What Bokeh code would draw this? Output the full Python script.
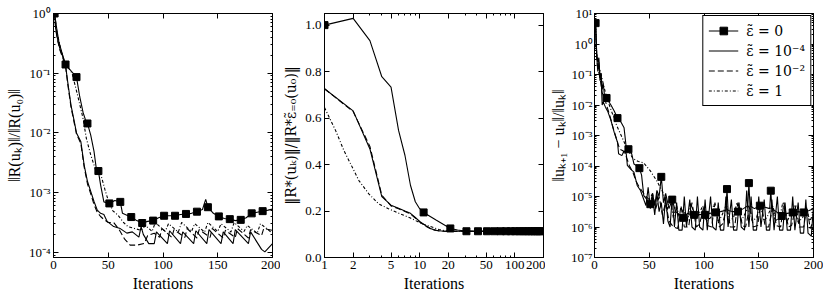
from bokeh.plotting import figure
from bokeh.layouts import row
from bokeh.models import (LinearAxis, FixedTicker, CustomJSTickFormatter,
                          Legend, LegendItem, Range1d)
from bokeh.embed import file_html
from bokeh.resources import INLINE

FONT = "Liberation Serif"
MATH_FONT = "DejaVu Serif"

# ---------------- data ----------------
# Panel 1: ||R(u_k)|| / ||R(u_0)||
P1_IT_E0 = [1, 3, 5, 8, 11, 21, 24, 27, 29, 31, 34, 37, 39, 41, 43, 46, 51, 56, 61, 63,
            67, 71, 76, 81, 86, 91, 96, 101, 106, 111, 116, 121, 126, 131, 136, 139, 141, 146, 151, 156,
            161, 166, 171, 176, 181, 186, 191, 196, 200]
P1_E0 = [1.0, 0.55, 0.33, 0.21, 0.14, 0.086, 0.04, 0.022, 0.017, 0.0144,
         0.0092, 0.0049, 0.0026, 0.0023, 0.00135, 0.0007, 0.00066, 0.00074, 0.0007, 0.00045,
         0.00042, 0.00039, 0.00034, 0.00031, 0.00033, 0.00034, 0.00038, 0.00041, 0.00041, 0.00041,
         0.00043, 0.00044, 0.00045, 0.00048, 0.00052, 0.00077, 0.00057, 0.00045, 0.0004, 0.00037,
         0.00036, 0.00034, 0.00035, 0.00038, 0.00045, 0.00047, 0.00049, 0.00051, 0.00053]

P1_IT_E4 = [1, 2, 4, 6, 9, 11, 13, 16, 19, 21, 25, 28, 31, 34, 37, 40, 43, 46, 49, 55,
            61, 67, 72, 78, 80, 82, 87, 92, 94, 104, 106, 116, 118, 128, 130, 140, 142, 153, 155, 164,
            166, 178, 180, 190, 193, 200]
P1_E4 = [1.0, 0.56, 0.35, 0.25, 0.18, 0.135, 0.071, 0.029, 0.0155, 0.01,
         0.0071, 0.0029, 0.00155, 0.00105, 0.00071, 0.00051, 0.00045, 0.00043, 0.00033, 0.00027,
         0.00025, 0.00021, 0.00022, 0.00018, 0.00027, 0.0002, 0.00014, 0.00014, 0.00022, 0.00014,
         0.00023, 0.00014, 0.00022, 0.00014, 0.00023, 0.00014, 0.00024, 0.00014, 0.00022, 0.00014,
         0.00024, 0.00014, 0.00022, 0.000112, 0.000102, 0.00014]

P1_IT_E2 = [1, 2, 4, 6, 9, 11, 13, 16, 19, 21, 25, 28, 31, 34, 37, 40, 43, 46, 50, 55,
            60, 65, 70, 76, 83, 86, 92, 97, 99, 108, 110, 120, 122, 131, 133, 143, 145, 155, 157, 166,
            168, 178, 180, 190, 192, 200]
P1_E2 = [1.0, 0.537, 0.339, 0.24, 0.17, 0.132, 0.066, 0.0269, 0.0145, 0.00955,
         0.0066, 0.00269, 0.00141, 0.000955, 0.000631, 0.000468, 0.000398, 0.000355, 0.000316, 0.000316,
         0.00024, 0.000166, 0.000132, 0.000132, 0.000141, 0.000191, 0.000209, 0.000178, 0.000251, 0.000178,
         0.00024, 0.000178, 0.000251, 0.000174, 0.00024, 0.000178, 0.000251, 0.000174, 0.000234, 0.000178,
         0.000251, 0.000174, 0.00024, 0.000191, 0.000251, 0.000234]

P1_IT_E1 = [1, 3, 6, 10, 14, 17, 22, 27, 30, 34, 39, 43, 47, 50, 54, 59, 64, 68, 74, 80,
            84, 90, 93, 102, 105, 114, 117, 126, 129, 138, 141, 150, 153, 162, 165, 174, 177, 186, 189, 200]
P1_E1 = [1.0, 0.5, 0.282, 0.158, 0.12, 0.1, 0.0427, 0.0174, 0.00813, 0.00427,
         0.00224, 0.00209, 0.00112, 0.000741, 0.000501, 0.000417, 0.000316, 0.000269, 0.000251, 0.000234,
         0.000282, 0.000224, 0.000316, 0.000224, 0.000302, 0.000219, 0.000316, 0.000224, 0.000302, 0.000219,
         0.000316, 0.000224, 0.000302, 0.000219, 0.000316, 0.000224, 0.000282, 0.000209, 0.000302, 0.000209]

# Panel 2: ||R*(u_k)|| / ||R*_{eps=0}(u_0)||  (log x axis)
P2_IT_E0 = [1, 2, 3, 4, 5, 6, 7, 8, 9, 10, 11, 15, 21, 25, 31, 41, 51, 61, 71, 81,
            91, 101, 111, 121, 131, 141, 151, 161, 171, 181, 191, 200]
P2_E0 = [1.0, 1.029, 0.933, 0.778, 0.733, 0.547, 0.44, 0.311, 0.24, 0.21, 0.194, 0.16, 0.125, 0.118, 0.113,
         0.113, 0.113, 0.113, 0.113, 0.113, 0.113, 0.113, 0.113, 0.113, 0.113, 0.113, 0.113, 0.113,
         0.113, 0.113, 0.113, 0.113]
P2_IT_E4 = [1, 2, 3, 4, 5, 6, 7, 8, 9, 10, 11, 12, 13, 14, 15, 16, 18, 200]
P2_E4 = [0.726, 0.631, 0.467, 0.262, 0.225, 0.212, 0.2, 0.19, 0.172, 0.155, 0.143, 0.133, 0.125,
         0.12, 0.117, 0.115, 0.113, 0.113]
P2_IT_E2 = [1, 2, 3, 4, 5, 6, 7, 8, 9, 10, 11, 12, 13, 14, 15, 16, 18, 200]
P2_E2 = [0.726, 0.628, 0.478, 0.268, 0.222, 0.21, 0.198, 0.187, 0.17, 0.153, 0.141, 0.131, 0.124,
         0.119, 0.116, 0.114, 0.113, 0.113]
P2_IT_E1 = [1, 1.31, 1.6, 1.96, 2.3, 2.92, 3.7, 4.7, 6.0, 7.9, 10.5, 12.8, 16, 20, 200]
P2_E1 = [0.645, 0.546, 0.46, 0.388, 0.331, 0.274, 0.231, 0.21, 0.191, 0.171, 0.146, 0.134, 0.12,
         0.113, 0.113]

# Panel 3: ||u_{k+1} - u_k|| / ||u_k||
P3_IT_E0 = [1, 2, 3, 4, 5, 6, 7, 8, 9, 11, 15, 18, 21, 24, 27, 29, 31, 34, 36, 39,
            41, 43, 45, 48, 51, 53, 55, 57, 59, 61, 63, 65, 68, 71, 74, 78, 81, 85, 88, 91,
            95, 101, 105, 111, 115, 120, 121, 122, 126, 131, 136, 140, 141, 142, 146, 151, 155, 160, 161, 162,
            166, 171, 176, 181, 186, 191, 196, 200]
P3_E0 = [4.84, 0.5, 0.251, 0.355, 0.0794, 0.112, 0.0316, 0.0501, 0.0224, 0.017,
         0.01, 0.00631, 0.00372, 0.00282, 0.00178, 0.000398, 0.000355, 0.000251, 0.000117, 0.0001,
         8.5e-5, 5.0e-5, 1.07e-5, 7.9e-6, 5.6e-6, 1.26e-5, 5.0e-6, 1.58e-5, 1.0e-5, 4.4e-5,
         6.3e-6, 1.26e-5, 4.0e-6, 7.9e-6, 3.2e-6, 2.5e-6, 2.0e-6, 2.8e-6, 2.5e-6, 2.5e-6,
         2.6e-6, 2.5e-6, 2.8e-6, 3.0e-6, 3.2e-6, 3.5e-6, 1.75e-5, 3.5e-6, 3.2e-6, 3.2e-6,
         4.0e-6, 5.0e-6, 2.75e-5, 5.0e-6, 4.0e-6, 5.0e-6, 4.5e-6, 4.0e-6, 1.55e-5, 4.0e-6,
         3.2e-6, 2.3e-6, 2.8e-6, 3.0e-6, 3.2e-6, 3.0e-6, 3.5e-6, 4.0e-6]

P3_IT_E4 = [1, 2, 3, 4, 5, 6, 7, 8, 10, 12, 15, 18, 21, 22, 25, 27, 29, 30, 33, 36,
            39, 42, 44, 47, 49, 51, 53, 55, 57, 59, 61, 63, 65, 67, 69, 71, 73, 75, 77, 80,
            82, 84, 87, 89, 92, 94, 96, 99, 101, 103, 106, 108, 111, 113, 115, 118, 120, 122, 125, 127,
            130, 132, 134, 137, 139, 141, 143, 145, 148, 150, 152, 155, 157, 160, 162, 164, 167, 169, 172, 174,
            176, 179, 181, 183, 186, 188, 191, 193, 195, 198, 200]
P3_E4 = [3.98, 0.398, 0.126, 0.251, 0.0631, 0.1, 0.01, 0.0126, 0.0085, 0.0063,
         0.00316, 0.00126, 0.0006, 0.000251, 0.000219, 0.000316, 0.000251, 0.000105, 7.9e-5, 6.3e-5,
         2.3e-5, 1.58e-5, 1.0e-5, 5.0e-6, 2.0e-5, 4.0e-6, 1.0e-5, 2.5e-6, 1.26e-5, 3.2e-6,
         6.3e-6, 1.26e-6, 1.0e-5, 1.58e-6, 1.0e-6, 1.0e-5, 1.0e-6, 6.3e-6, 7.9e-7, 7.9e-7,
         1.0e-5, 1.0e-6, 7.9e-6, 1.0e-6, 7.9e-7, 1.0e-5, 1.0e-6, 7.9e-7, 7.9e-6, 7.9e-7,
         1.0e-5, 1.0e-6, 7.9e-7, 6.3e-6, 7.9e-7, 7.9e-7, 1.0e-5, 1.0e-6, 7.9e-6, 7.9e-7,
         7.9e-7, 6.3e-6, 1.0e-6, 7.9e-7, 1.58e-5, 1.0e-6, 1.0e-5, 7.9e-7, 7.9e-7, 1.0e-5,
         1.0e-6, 7.9e-6, 7.9e-7, 7.9e-7, 7.9e-6, 7.9e-7, 1.0e-5, 7.9e-7, 7.9e-7, 6.3e-6,
         7.9e-7, 7.9e-7, 1.0e-5, 7.9e-7, 6.3e-6, 6.3e-7, 6.3e-7, 7.9e-6, 6.3e-7, 5.0e-7,
         5.0e-6]

P3_IT_E2 = [1, 2, 3, 5, 7, 9, 11, 14, 17, 20, 23, 26, 29, 32, 35, 38, 41, 44, 47, 50,
            53, 56, 59, 62, 65, 68, 72, 76, 79, 82, 86, 89, 93, 96, 100, 103, 107, 110, 114, 117,
            121, 124, 128, 131, 135, 138, 142, 145, 149, 152, 156, 159, 163, 166, 170, 173, 177, 180, 184, 187,
            191, 194, 197, 200]
P3_E2 = [3.55, 0.355, 0.158, 0.0794, 0.0251, 0.0178, 0.01, 0.00447, 0.00178, 0.000794,
         0.000355, 0.000316, 0.0002, 1.0e-4, 6.3e-5, 3.16e-5, 2.0e-5, 1.41e-5, 1.0e-5, 7.9e-6,
         1.26e-5, 4.0e-6, 1.0e-5, 2.5e-6, 6.3e-6, 1.58e-6, 1.0e-6, 8.9e-7, 5.0e-6, 1.0e-6,
         1.0e-6, 6.3e-6, 1.0e-6, 1.26e-6, 5.0e-6, 1.12e-6, 1.0e-6, 6.3e-6, 1.0e-6, 1.26e-6,
         5.0e-6, 1.0e-6, 1.0e-6, 6.3e-6, 1.12e-6, 1.0e-6, 5.0e-6, 1.0e-6, 1.12e-6, 6.3e-6,
         1.0e-6, 1.0e-6, 5.0e-6, 1.12e-6, 1.0e-6, 6.3e-6, 1.0e-6, 1.12e-6, 5.0e-6, 1.0e-6,
         1.0e-6, 4.5e-6, 8.9e-7, 1.58e-6]

P3_IT_E1 = [1, 2, 4, 6, 8, 10, 13, 16, 20, 25, 30, 35, 40, 45, 51, 57, 60, 63, 66, 69,
            72, 75, 78, 81, 85, 88, 92, 95, 99, 102, 106, 109, 113, 116, 120, 123, 127, 130, 134, 137,
            141, 144, 148, 151, 155, 158, 162, 165, 169, 172, 176, 179, 183, 186, 190, 193, 197, 200]
P3_E1 = [3.98, 0.5, 0.2, 0.1, 0.0501, 0.0251, 0.0112, 0.00562, 0.00224, 0.000891,
         0.000355, 0.000178, 0.000141, 0.000126, 6.9e-5, 3.2e-5, 2.0e-5, 1.26e-5, 3.2e-6, 1.0e-5,
         2.0e-6, 5.0e-6, 1.58e-6, 4.0e-6, 1.58e-6, 6.3e-6, 1.78e-6, 2.5e-6, 5.0e-6, 1.58e-6,
         2.0e-6, 5.6e-6, 1.58e-6, 2.24e-6, 5.0e-6, 1.58e-6, 2.0e-6, 6.3e-6, 1.58e-6, 2.5e-6,
         5.0e-6, 1.58e-6, 2.0e-6, 5.6e-6, 1.58e-6, 2.24e-6, 5.0e-6, 1.58e-6, 2.0e-6, 6.3e-6,
         1.58e-6, 2.5e-6, 5.0e-6, 1.41e-6, 2.0e-6, 4.0e-6, 1.58e-6, 3.2e-6]

LEGEND_LABELS = ["\u03b5\u0303 = 0", "\u03b5\u0303 = 10\u207b\u2074",
                 "\u03b5\u0303 = 10\u207b\u00b2", "\u03b5\u0303 = 1"]
X_TICKS_LIN = [0, 50, 100, 150, 200]
X_TICKS_LOG = [1, 2, 5, 10, 20, 50, 100, 200]
Y_TICKS_P2 = [0.0, 0.2, 0.4, 0.6, 0.8, 1.0]

DASH = "6 3"
DASHDOT = "3 2 1 2"
LW = 1.1
H = 297


def sup_formatter():
    return CustomJSTickFormatter(code="""
const m = {'-':'\u207b','0':'\u2070','1':'\u00b9','2':'\u00b2','3':'\u00b3','4':'\u2074',
           '5':'\u2075','6':'\u2076','7':'\u2077','8':'\u2078','9':'\u2079'};
const e = Math.round(Math.log10(tick));
return '10' + String(e).split('').map(c => m[c]).join('');
""")


def plain_formatter(digits):
    return CustomJSTickFormatter(code="return tick.toFixed(%d);" % digits)


def log_ticker(lo, hi):
    return FixedTicker(ticks=[10.0 ** e for e in range(lo, hi + 1)],
                       minor_ticks=[m * 10.0 ** e for e in range(lo - 1, hi + 1) for m in range(2, 10)])


def style_axis(ax):
    ax.major_tick_in = 5
    ax.major_tick_out = 0
    ax.minor_tick_in = 2
    ax.minor_tick_out = 0
    ax.axis_line_color = "black"
    ax.major_tick_line_color = "black"
    ax.minor_tick_line_color = "black"
    ax.major_label_text_font = FONT
    ax.major_label_text_font_size = "13px"
    ax.major_label_text_color = "black"
    ax.axis_label_text_font = FONT
    ax.axis_label_text_font_size = "16px"
    ax.axis_label_text_font_style = "normal"
    ax.axis_label_text_color = "black"
    ax.major_label_standoff = 3
    ax.axis_label_standoff = 3


def make_fig(width, left, right, x_type, y_type, x_range, y_range):
    p = figure(width=width, height=H, x_axis_type=x_type, y_axis_type=y_type,
               x_range=x_range, y_range=y_range, output_backend="svg",
               toolbar_location=None, min_border_left=left, min_border_right=right,
               min_border_top=13, min_border_bottom=40)
    p.grid.visible = False
    p.outline_line_color = "black"
    p.outline_line_alpha = 1.0
    p.background_fill_color = "white"
    p.border_fill_color = "white"
    return p


def add_frame_axes(p, xtick, ytick):
    # tick marks only on the top and right edges (no labels)
    top = LinearAxis(ticker=xtick, major_label_text_alpha=0.0)
    rgt = LinearAxis(ticker=ytick, major_label_text_alpha=0.0)
    for ax in (top, rgt):
        style_axis(ax)
        ax.major_label_text_font_size = "1px"
        ax.major_label_standoff = 0
        ax.formatter = CustomJSTickFormatter(code="return ' ';")
    p.add_layout(top, "above")
    p.add_layout(rgt, "right")


def markers(its, vals):
    mi = [i for i in its if (i - 1) % 10 == 0]
    mv = [v for i, v in zip(its, vals) if (i - 1) % 10 == 0]
    return mi, mv


def draw(p, d0, d4, d2, d1):
    r4 = p.line(d4[0], d4[1], line_color="black", line_width=LW)
    r2 = p.line(d2[0], d2[1], line_color="black", line_width=LW, line_dash=DASH)
    r1 = p.line(d1[0], d1[1], line_color="black", line_width=LW, line_dash=DASHDOT)
    r0 = p.line(d0[0], d0[1], line_color="black", line_width=LW)
    mi, mv = markers(d0[0], d0[1])
    s0 = p.scatter(mi, mv, marker="square", size=7, color="black")
    return [r0, s0], r4, r2, r1


# ---------------- panel 1 ----------------
p1 = make_fig(280, 53, 8, "linear", "log", Range1d(0, 200), Range1d(8.2e-5, 1.0))
xt1 = FixedTicker(ticks=X_TICKS_LIN, minor_ticks=[])
yt1 = log_ticker(-4, 0)
p1.xaxis.ticker = xt1
p1.yaxis.ticker = yt1
p1.yaxis.formatter = sup_formatter()
p1.xaxis.axis_label = "Iterations"
p1.yaxis.axis_label = "\u2016R(u\u2096)\u2016/\u2016R(u\u2080)\u2016"
for ax in p1.xaxis + p1.yaxis:
    style_axis(ax)
add_frame_axes(p1, xt1, yt1)
draw(p1, (P1_IT_E0, P1_E0), (P1_IT_E4, P1_E4), (P1_IT_E2, P1_E2), (P1_IT_E1, P1_E1))

# ---------------- panel 2 ----------------
p2 = make_fig(265, 42, 2, "log", "linear", Range1d(1, 200), Range1d(0, 1.05))
xt2 = FixedTicker(ticks=X_TICKS_LOG,
                  minor_ticks=[3, 4, 6, 7, 8, 9, 30, 40, 60, 70, 80, 90])
yt2 = FixedTicker(ticks=Y_TICKS_P2, minor_ticks=[])
p2.xaxis.ticker = xt2
p2.yaxis.ticker = yt2
p2.xaxis.formatter = plain_formatter(0)
p2.yaxis.formatter = plain_formatter(1)
p2.xaxis.axis_label = "Iterations"
p2.yaxis.axis_label = "\u2016R*(u\u2096)\u2016/\u2016R*\u03b5\u0303\u208c\u2080(u\u2080)\u2016"
for ax in p2.xaxis + p2.yaxis:
    style_axis(ax)
p2.yaxis.axis_label_text_font = MATH_FONT
p2.yaxis.axis_label_text_font_size = "14px"
add_frame_axes(p2, xt2, yt2)
draw(p2, (P2_IT_E0, P2_E0), (P2_IT_E4, P2_E4), (P2_IT_E2, P2_E2), (P2_IT_E1, P2_E1))

# ---------------- panel 3 ----------------
p3 = make_fig(278, 49, 10, "linear", "log", Range1d(0, 200), Range1d(1e-7, 10))
xt3 = FixedTicker(ticks=X_TICKS_LIN, minor_ticks=[])
yt3 = log_ticker(-7, 1)
p3.xaxis.ticker = xt3
p3.yaxis.ticker = yt3
p3.yaxis.formatter = sup_formatter()
p3.xaxis.axis_label = "Iterations"
p3.yaxis.axis_label = "\u2016u\u2096\u208a\u2081 \u2212 u\u2096\u2016/\u2016u\u2096\u2016"
for ax in p3.xaxis + p3.yaxis:
    style_axis(ax)
p3.yaxis.major_label_standoff = 2
p3.yaxis.axis_label_standoff = 1
add_frame_axes(p3, xt3, yt3)
r0, r4, r2, r1 = draw(p3, (P3_IT_E0, P3_E0), (P3_IT_E4, P3_E4), (P3_IT_E2, P3_E2), (P3_IT_E1, P3_E1))

legend = Legend(items=[LegendItem(label=LEGEND_LABELS[0], renderers=r0),
                       LegendItem(label=LEGEND_LABELS[1], renderers=[r4]),
                       LegendItem(label=LEGEND_LABELS[2], renderers=[r2]),
                       LegendItem(label=LEGEND_LABELS[3], renderers=[r1])],
                location="top_right")
legend.label_text_font = MATH_FONT
legend.label_text_font_size = "14px"
legend.label_text_color = "black"
legend.border_line_color = "black"
legend.border_line_width = 1
legend.border_line_alpha = 1.0
legend.background_fill_alpha = 1.0
legend.margin = 2
legend.padding = 5
legend.spacing = 1
legend.glyph_width = 30
legend.glyph_height = 19
legend.label_height = 19
legend.label_standoff = 8
p3.add_layout(legend)

layout = row(p1, p2, p3)
open("out.html", "w").write(file_html(layout, INLINE))
